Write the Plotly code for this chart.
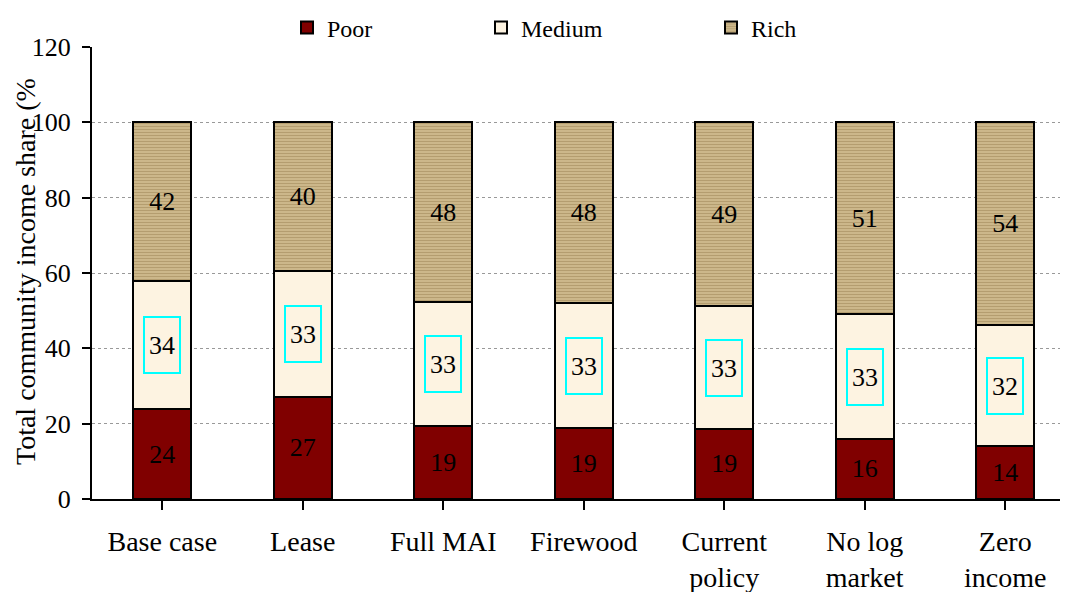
import plotly.graph_objects as go

categories = ["Base case", "Lease", "Full MAI", "Firewood", "Current<br>policy", "No log<br>market", "Zero<br>income"]
poor = [23.8, 27.2, 19.3, 18.8, 18.6, 16.0, 14.0]
medium = [34.1, 33.2, 32.9, 33.2, 32.6, 33.0, 32.2]
rich = [42.1, 39.6, 47.8, 48.0, 48.8, 51.0, 53.8]
y_ticks = [0, 20, 40, 60, 80, 100, 120]

FONT = "Liberation Serif, Times New Roman, serif"
x = list(range(len(categories)))

OFF = 8  # page body margin in the browser
W, H = 1068, 592
L = 92 - OFF
R = OFF
B = H - (499 - OFF)
TOP = 47 - OFF  # plot top in figure px
plot_h_paper = H - B  # paper height with t=0
dom_top = (plot_h_paper - TOP) / plot_h_paper
plot_w = W - L - R


def px_x(screen_px):
    return (screen_px - OFF - L) / plot_w


def px_y(screen_px):
    return (plot_h_paper - (screen_px - OFF)) / plot_h_paper


fig = go.Figure()
fig.add_trace(go.Bar(
    x=x, y=poor, name="Poor", width=0.41, showlegend=True,
    marker=dict(color="#800000", line=dict(color="black", width=2)),
    texttemplate="%{y:.0f}", textposition="inside", insidetextanchor="middle",
    textangle=0, constraintext="none",
    textfont=dict(family=FONT, size=26, color="black"), legend="legend",
))
fig.add_trace(go.Bar(
    x=x, y=medium, name="Medium", width=0.41, showlegend=True,
    marker=dict(color="#FDF3E1", line=dict(color="black", width=2)),
    legend="legend2", hoverinfo="y",
))
fig.add_trace(go.Bar(
    x=x, y=rich, name="Rich", width=0.41, showlegend=True,
    marker=dict(color="#c9b283", line=dict(color="black", width=2),
                pattern=dict(shape="-", fgcolor="#9c8454", bgcolor="#ccb78a", size=3, solidity=0.35)),
    texttemplate="%{y:.0f}", textposition="inside", insidetextanchor="middle",
    textangle=0, constraintext="none",
    textfont=dict(family=FONT, size=26, color="black"), legend="legend3",
))

for xi, p, m in zip(x, poor, medium):
    fig.add_annotation(
        x=xi, y=p + m / 2, xref="x", yref="y", text=f"{m:.0f}", showarrow=False,
        font=dict(family=FONT, size=26, color="black"),
        bordercolor="#00FFFF", borderwidth=2, width=32, height=52, bgcolor="rgba(0,0,0,0)",
    )

fig.add_annotation(
    x=0, y=0.5, xref="x domain", yref="y domain", xanchor="center", yanchor="middle",
    xshift=-67, yshift=1, text="Total community income share (%", textangle=-90, showarrow=False,
    font=dict(family=FONT, size=28, color="black"),
)

leg_common = dict(orientation="h", xanchor="left", yanchor="middle", y=px_y(28),
                  font=dict(family=FONT, size=24, color="black"), bgcolor="rgba(0,0,0,0)",
                  borderwidth=0, visible=True)
fig.update_layout(
    barmode="stack",
    showlegend=True,
    width=W, height=H,
    margin=dict(l=L, r=R, t=0, b=B, autoexpand=False),
    paper_bgcolor="white", plot_bgcolor="white",
    font=dict(family=FONT, size=26, color="black"),
    legend=dict(x=px_x(287), **leg_common),
    legend2=dict(x=px_x(481), **leg_common),
    legend3=dict(x=px_x(711), **leg_common),
    bargap=0.59,
)
fig.update_xaxes(
    automargin=False,
    range=[-0.5, 6.447], tickmode="array", tickvals=x, ticktext=categories,
    showline=True, linecolor="black", linewidth=2, ticks="outside", tickson="boundaries",
    ticklen=9, tickwidth=1.5, tickcolor="black", showgrid=False,
    tickfont=dict(family=FONT, size=28, color="black"), ticklabelstandoff=7,
)
fig.update_yaxes(
    automargin=False,
    domain=[0, dom_top],
    range=[0, 120], tickvals=y_ticks, showline=True, linecolor="black", linewidth=2,
    ticks="outside", ticklen=8, tickwidth=1.5, tickcolor="black",
    showgrid=True, gridcolor="#999999", griddash="dot", gridwidth=1, zeroline=False,
    tickfont=dict(family=FONT, size=26, color="black"), ticklabelstandoff=6,
)

fig.write_html("out.html")
